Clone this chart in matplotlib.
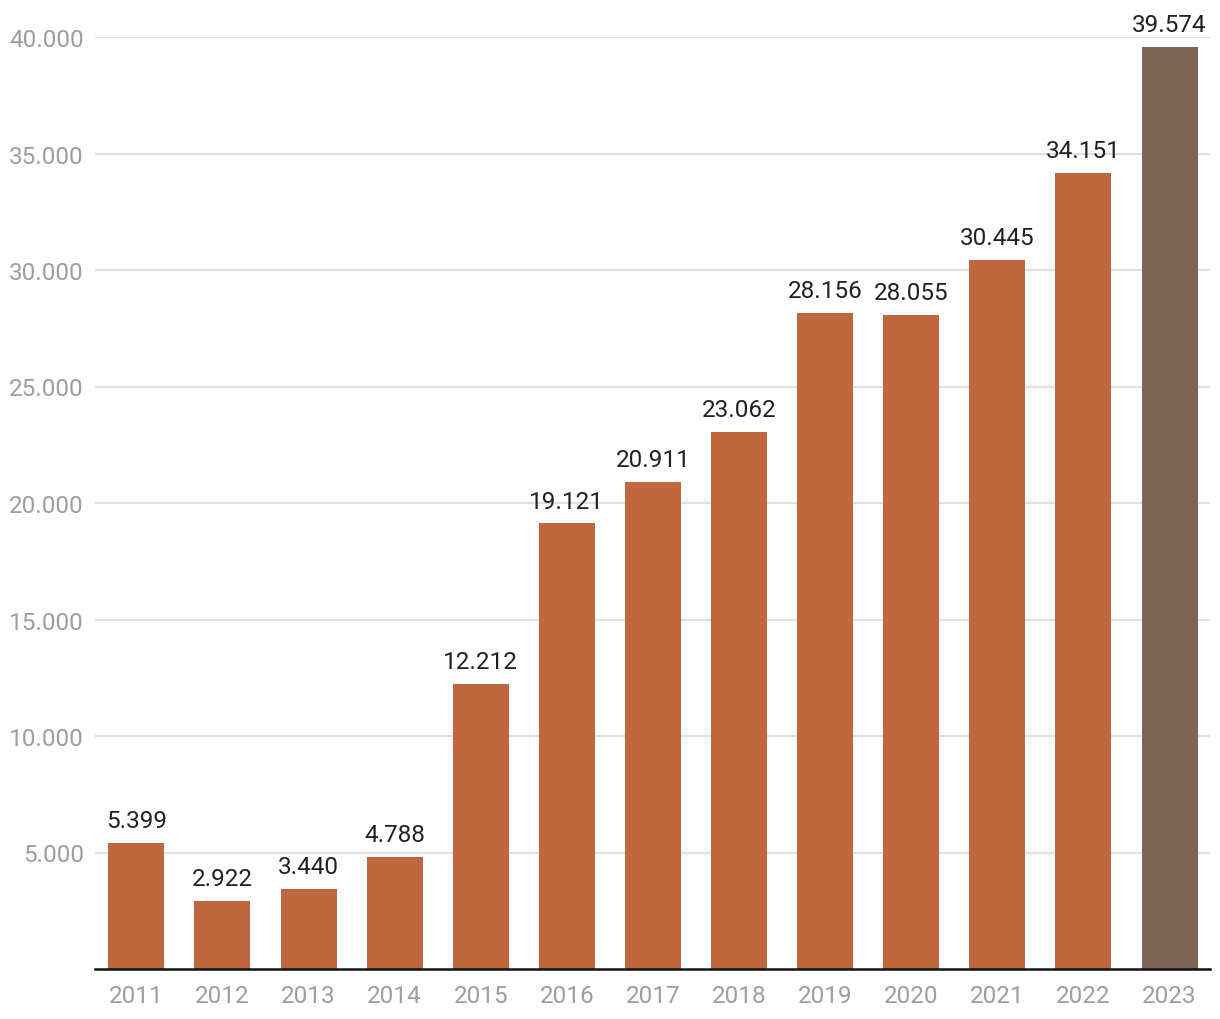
import matplotlib.pyplot as plt
import numpy as np

years = ["2011", "2012", "2013", "2014", "2015", "2016", "2017",
	"2018", "2019", "2020", "2021", "2022", "2023"]
values = [5399, 2922, 3440, 4788, 12212, 19121, 20911,
	23062, 28156, 28055, 30445, 34151, 39574]
yticks = [5000, 10000, 15000, 20000, 25000, 30000, 35000, 40000]


def fmt(v):
	# thousands separator is a dot
	return "{:,}".format(v).replace(",", ".")


if __name__ == '__main__':
	plt.rcParams['font.family'] = ['Roboto', 'DejaVu Sans']

	fig = plt.figure(figsize=(12.2, 10.2), dpi=100)
	ax = fig.add_axes([95/1220, 50/1020, 1115/1220, 932/1020])

	x = np.arange(len(years))
	colors = ["#BF6840"] * (len(years) - 1) + ["#7D6457"]
	bars = ax.bar(x, values, width=0.65, color=colors, zorder=2)

	for xi, v in zip(x, values):
		ax.annotate(fmt(v), (xi, v), xytext=(0, 11.5), textcoords="offset points",
			ha="center", va="baseline", fontsize=17.5, color="#212121")

	ax.set_xlim(-0.48, 12.47)
	ax.set_ylim(0, 40000)
	ax.set_xticks(x)
	ax.set_xticklabels(years)
	ax.set_yticks(yticks)
	ax.set_yticklabels([fmt(t) for t in yticks])
	ax.tick_params(axis="both", length=0, labelsize=17.5, labelcolor="#9E9E9E")
	ax.tick_params(axis="y", pad=8)
	ax.tick_params(axis="x", pad=11)

	ax.grid(axis="y", color="#E0E0E0", linewidth=1.5, zorder=0)
	ax.set_axisbelow(True)
	for s in ["top", "right", "left"]:
		ax.spines[s].set_visible(False)
	ax.spines["bottom"].set_color("#111111")
	ax.spines["bottom"].set_linewidth(1.8)
	ax.spines["bottom"].set_zorder(3)

	plt.savefig("out.png", dpi=100)
